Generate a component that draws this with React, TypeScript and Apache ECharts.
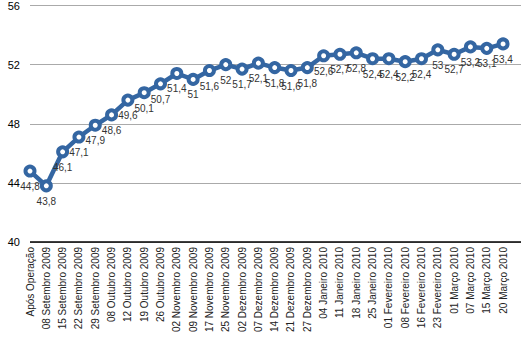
import React, { useEffect, useRef } from "react";
import * as echarts from "echarts";

const categories: string[] = [
  "Após Operação",
  "08 Setembro 2009",
  "15 Setembro 2009",
  "22 Setembro 2009",
  "29 Setembro 2009",
  "08 Outubro 2009",
  "12 Outubro 2009",
  "19 Outubro 2009",
  "26 Outubro 2009",
  "02 Novembro 2009",
  "09 Novembro 2009",
  "17 Novembro 2009",
  "25 Novembro 2009",
  "02 Dezembro 2009",
  "07 Dezembro 2009",
  "14 Dezembro 2009",
  "21 Dezembro 2009",
  "27 Dezembro 2009",
  "04 Janeiro 2010",
  "11 Janeiro 2010",
  "18 Janeiro 2010",
  "25 Janeiro 2010",
  "01 Fevereiro 2010",
  "08 Fevereiro 2010",
  "16 Fevereiro 2010",
  "23 Fevereiro 2010",
  "01 Março 2010",
  "07 Março 2010",
  "15 Março 2010",
  "20 Março 2010",
];

const values: number[] = [
  44.8, 43.8, 46.1, 47.1, 47.9, 48.6, 49.6, 50.1, 50.7, 51.4, 51, 51.6, 52,
  51.7, 52.1, 51.8, 51.6, 51.8, 52.6, 52.7, 52.8, 52.4, 52.4, 52.2, 52.4, 53,
  52.7, 53.2, 53.1, 53.4,
];

const yTicks = { min: 40, max: 56, interval: 4 };

export default function App() {
  const ref = useRef<HTMLDivElement>(null);
  useEffect(() => {
    if (!ref.current) return;
    const chart = echarts.init(ref.current, undefined, { renderer: "svg" });
    const color = "#3466a2";
    chart.setOption({
      animation: false,
      grid: { left: 30, right: 0, top: 5, bottom: 111 },
      xAxis: {
        type: "value",
        min: 0,
        max: 30.1,
        interval: 1,
        axisLine: { show: false },
        axisTick: { show: false },
        splitLine: { show: false },
        axisLabel: {
          rotate: 90,
          margin: 5,
          fontFamily: "Liberation Sans, Arial, sans-serif",
          fontSize: 10,
          color: "#222",
          showMaxLabel: false,
          formatter: (v: number) => categories[Math.round(v)] ?? "",
        },
      },
      yAxis: {
        type: "value",
        min: yTicks.min,
        max: yTicks.max,
        interval: yTicks.interval,
        axisLine: { show: false },
        axisTick: { show: false },
        axisLabel: {
          margin: 10,
          fontFamily: "Liberation Sans, Arial, sans-serif",
          fontSize: 11,
          color: "#000",
          showMaxLabel: true,
        },
        splitLine: { lineStyle: { color: "#aaaaaa", width: 1 } },
      },
      series: [
        {
          type: "line",
          data: values.map((v, i) => [i, v]),
          lineStyle: { color, width: 4.5 },
          symbol: "circle",
          symbolSize: 9,
          itemStyle: { color: "#ffffff", borderColor: color, borderWidth: 4 },
          label: {
            show: true,
            position: "bottom",
            distance: 4,
            fontFamily: "Liberation Sans, Arial, sans-serif",
            fontSize: 10,
            color: "#333",
            formatter: (p: any) => String(p.value[1]).replace(".", ","),
          },
          markLine: {
            silent: true,
            symbol: "none",
            label: { show: false },
            lineStyle: { color: "#000", width: 1.5, type: "solid" },
            data: [{ yAxis: yTicks.min }],
          },
          z: 3,
        },
      ],
    });
    return () => chart.dispose();
  }, []);
  return (
    <div
      ref={ref}
      style={{ position: "absolute", left: 0, top: 0, width: 521, height: 353 }}
    />
  );
}
